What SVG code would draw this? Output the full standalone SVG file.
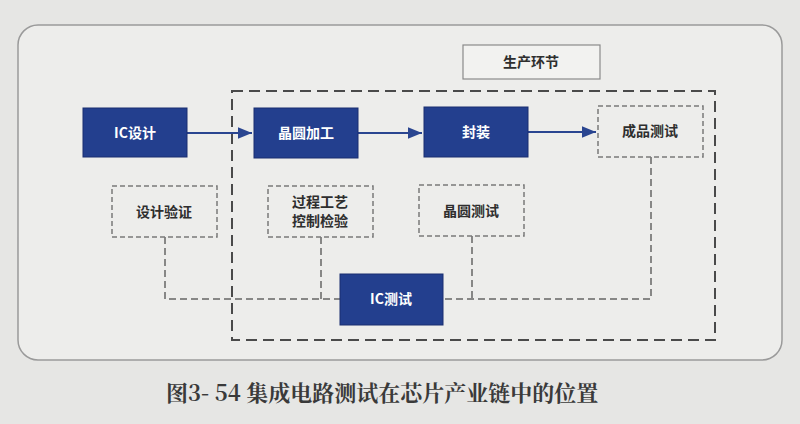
<svg xmlns="http://www.w3.org/2000/svg" width="800" height="424" viewBox="0 0 800 424">
<defs>
<marker id="ah2" viewBox="0 0 12 10" refX="12" refY="5" markerWidth="14" markerHeight="12" markerUnits="userSpaceOnUse" orient="auto"><path d="M0,0 L12,5 L0,10 z" fill="#2a4590"/></marker>
</defs>
<style>
.solid rect{fill:#233f8e;stroke:#1a2f70;stroke-width:1}
.solid text{fill:#ffffff;font-family:"Noto Sans CJK SC","Noto Sans",sans-serif;font-size:14px;font-weight:bold;text-anchor:middle}
.dash rect{fill:none;stroke:#7a7a7a;stroke-width:1.5;stroke-dasharray:5 3}
.dash text{fill:#2e2e2e;font-family:"Noto Sans CJK SC","Noto Sans",sans-serif;font-size:14px;font-weight:bold;text-anchor:middle}
.conn .d{fill:none;stroke:#666666;stroke-width:1.5;stroke-dasharray:7 4}
.conn .a{stroke:#2a4590;stroke-width:2;fill:none}
</style>
<rect x="0" y="0" width="800" height="424" fill="#e6e6e4"/>
<rect x="18" y="25" width="764" height="335" rx="20" fill="#ededeb" stroke="#9a9a9a" stroke-width="1.5"/>
<g id="stage-label">
<rect x="463" y="45" width="137" height="34" fill="#f2f2f0" stroke="#8a8a8a" stroke-width="1.2"/>
<text x="531" y="67" fill="#2e2e2e" font-family="Noto Sans CJK SC, sans-serif" font-size="14" font-weight="bold" text-anchor="middle">生产环节</text>
</g>
<g id="production-area">
<rect x="232" y="91" width="483" height="249" fill="none" stroke="#4a4a4a" stroke-width="2" stroke-dasharray="11 6"/>
</g>
<g class="conn" id="connectors">
<polyline class="d" points="165,237 165,299 340,299"/>
<line class="d" x1="321" y1="237" x2="321" y2="299"/>
<line class="d" x1="472" y1="236" x2="472" y2="299"/>
<polyline class="d" points="651,157 651,299 443,299"/>
<line class="a" x1="187" y1="133" x2="252" y2="133" marker-end="url(#ah2)"/>
<line class="a" x1="358" y1="133" x2="422" y2="133" marker-end="url(#ah2)"/>
<line class="a" x1="528" y1="132" x2="596" y2="132" marker-end="url(#ah2)"/>
</g>
<g id="ic-design" class="solid"><rect x="83" y="108" width="104" height="49"/><text x="135" y="138">IC设计</text></g>
<g id="wafer-fab" class="solid"><rect x="254" y="108" width="104" height="50"/><text x="306" y="138">晶圆加工</text></g>
<g id="package" class="solid"><rect x="424" y="107" width="104" height="50"/><text x="476" y="137">封装</text></g>
<g id="final-test" class="dash"><rect x="598" y="106" width="105" height="51"/><text x="650" y="136">成品测试</text></g>
<g id="design-verify" class="dash"><rect x="112" y="186" width="105" height="51"/><text x="164" y="217">设计验证</text></g>
<g id="process-control" class="dash"><rect x="268" y="186" width="105" height="51"/><text x="320" y="207">过程工艺</text><text x="320" y="226">控制检验</text></g>
<g id="wafer-test" class="dash"><rect x="419" y="185" width="105" height="51"/><text x="471" y="216">晶圆测试</text></g>
<g id="ic-test" class="solid"><rect x="340" y="274" width="103" height="51"/><text x="391" y="304">IC测试</text></g>
<text x="166" y="401" fill="#3a3a3a" font-family="Noto Serif CJK SC, Noto Sans CJK SC, serif" font-size="22" font-weight="bold">图3- 54 集成电路测试在芯片产业链中的位置</text>
</svg>
